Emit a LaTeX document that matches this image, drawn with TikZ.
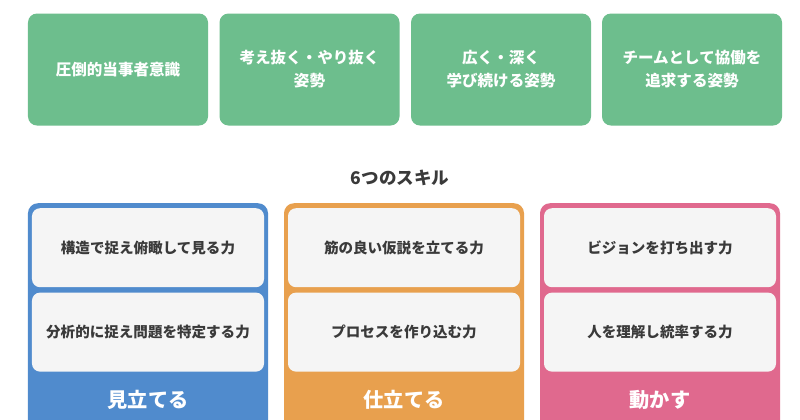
\documentclass[tikz,border=0pt]{standalone}
\usepackage{fontspec}
\newfontfamily\jpfont{Noto Sans CJK JP}
\usetikzlibrary{positioning}
\definecolor{stancegreen}{HTML}{6DBE8D}
\definecolor{seeblue}{HTML}{508BCD}
\definecolor{makeorange}{HTML}{E8A04E}
\definecolor{movepink}{HTML}{E0698E}
\definecolor{skillwhite}{HTML}{F5F5F5}
\definecolor{skilltext}{HTML}{3A3A3A}
\tikzset{x=1bp, y=-1bp, % one unit is one pixel of the picture
    font=\jpfont\bfseries,
    stance/.style=
    { % The four green boxes at the top
        fill=stancegreen,
        text=white,
        rounded corners=9bp,
        minimum width=180bp,
        minimum height=112bp,
        align=center,
        font=\jpfont\bfseries\fontsize{15.6}{23}\selectfont
    },
    group/.style={ % The coloured frame of one skill group
        rounded corners=10bp,
        minimum width=240bp,
        minimum height=240bp,
        anchor=north
    },
    skillbox/.style={ % A light box holding one skill
        fill=skillwhite,
        text=skilltext,
        rounded corners=8bp,
        minimum width=232bp,
        minimum height=79bp,
        font=\jpfont\bfseries\fontsize{14.6}{16}\selectfont
    },
    grouplabel/.style={
        text=white,
        font=\jpfont\bfseries\fontsize{20.3}{22}\selectfont
    }
}

\begin{document}
\begin{tikzpicture}
\clip (0,0) rectangle (800,419);
\fill[white] (0,0) rectangle (800,419);

\node [stance] (s1) at (118,69.5) {圧倒的当事者意識};
\node [stance] (s2) at (309.5,69.5) {考え抜く・やり抜く\\姿勢};
\node [stance] (s3) at (501,69.5) {広く・深く\\学び続ける姿勢};
\node [stance] (s4) at (692,69.5) {チームとして協働を\\追求する姿勢};

\node [text=skilltext,font=\jpfont\bfseries\fontsize{17.6}{18}\selectfont] (title) at (400,178) {6つのスキル};

\node [group,fill=seeblue]     (see)  at (148,203) {};
\node [group,fill=makeorange]  (make) at (404,203) {};
\node [group,fill=movepink]    (move) at (660,203) {};

\node [skillbox,below=5bp of see.north]  (see1)  {構造で捉え俯瞰して見る力};
\node [skillbox,below=5bp of see1]       (see2)  {分析的に捉え問題を特定する力};
\node [skillbox,below=5bp of make.north] (make1) {筋の良い仮説を立てる力};
\node [skillbox,below=5bp of make1]      (make2) {プロセスを作り込む力};
\node [skillbox,below=5bp of move.north] (move1) {ビジョンを打ち出す力};
\node [skillbox,below=5bp of move1]      (move2) {人を理解し統率する力};

\node [grouplabel] (seelabel)  at (148,400) {見立てる};
\node [grouplabel] (makelabel) at (404,400) {仕立てる};
\node [grouplabel] (movelabel) at (660,400) {動かす};
\end{tikzpicture}
\end{document}
